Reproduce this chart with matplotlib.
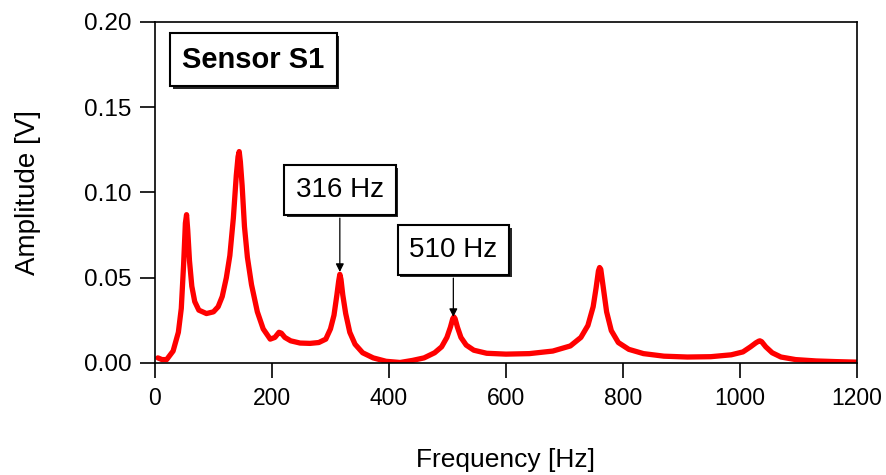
import matplotlib
matplotlib.use("Agg")
import matplotlib.pyplot as plt
import matplotlib.patheffects as pe

plt.rcParams['font.family'] = ['Liberation Sans', 'DejaVu Sans']

# spectrum
freq = [5, 12, 20, 31, 40, 45, 49, 52, 54, 56, 59, 63, 68, 75, 88, 100, 108, 115,
        122, 128, 134, 139, 142, 144, 146, 149, 153, 158, 165, 175, 185, 197, 205,
        212, 216, 222, 232, 248, 265, 280, 292, 300, 306, 311, 314, 316, 318, 321,
        326, 333, 342, 355, 373, 395, 419, 440, 460, 478, 490, 499, 505, 509, 511,
        513, 517, 523, 532, 545, 567, 600, 640, 680, 710, 728, 740, 749, 754, 758,
        760, 762, 766, 772, 780, 792, 810, 835, 870, 910, 950, 985, 1005, 1018,
        1027, 1032, 1034, 1037, 1044, 1055, 1070, 1095, 1130, 1165, 1200]
amp = [0.003, 0.002, 0.002, 0.007, 0.018, 0.032, 0.058, 0.082, 0.087, 0.078,
       0.060, 0.045, 0.036, 0.031, 0.029, 0.030, 0.033, 0.039, 0.050, 0.063,
       0.085, 0.110, 0.121, 0.124, 0.118, 0.104, 0.080, 0.062, 0.046, 0.030,
       0.020, 0.014, 0.015, 0.018, 0.0175, 0.015, 0.013, 0.0117, 0.0115, 0.012,
       0.014, 0.020, 0.028, 0.040, 0.048, 0.052, 0.049, 0.040, 0.029, 0.018,
       0.011, 0.006, 0.003, 0.001, 0.0003, 0.0015, 0.003, 0.006, 0.0095, 0.015,
       0.021, 0.026, 0.027, 0.026, 0.021, 0.015, 0.0105, 0.0075, 0.0057, 0.0052,
       0.0055, 0.007, 0.010, 0.015, 0.022, 0.033, 0.044, 0.054, 0.056, 0.055,
       0.045, 0.030, 0.019, 0.012, 0.008, 0.0055, 0.004, 0.0035, 0.0037, 0.0048,
       0.0065, 0.0095, 0.0118, 0.0128, 0.013, 0.0125, 0.0095, 0.006, 0.0035,
       0.002, 0.0012, 0.0008, 0.0005]

marked = [316, 510]
marked_amp = [0.0534, 0.027]
marked_text = [0.1015, 0.0663]

fig = plt.figure(figsize=(8.87, 4.75), dpi=100)
ax = fig.add_axes([0.1747, 0.2358, 0.7915, 0.7179])

ax.plot(freq, amp, color='#ff0000', lw=3.8, solid_joinstyle='round', solid_capstyle='round')

ax.set_xlim(0, 1200)
ax.set_ylim(0, 0.20)
ax.set_xticks(range(0, 1201, 200))
ax.set_yticks([0, 0.05, 0.10, 0.15, 0.20])
ax.set_yticklabels(['0.00', '0.05', '0.10', '0.15', '0.20'])
for s in ax.spines.values():
    s.set_linewidth(1.2)
ax.tick_params(direction='out', length=11, width=1.2, pad=6, top=False, right=False)
ax.tick_params(axis='y', labelsize=17.5)
ax.tick_params(axis='x', labelsize=16.5)

ax.set_xlabel('Frequency [Hz]', fontsize=19)
ax.set_ylabel('Amplitude [V]', fontsize=20)
ax.xaxis.set_label_coords(0.5, -0.25)
ax.yaxis.set_label_coords(-0.162, 0.5)

shadow = [pe.SimplePatchShadow(offset=(2, -2), shadow_rgbFace='black', alpha=0.85), pe.Normal()]

t = ax.text(168, 0.178, 'Sensor S1', fontsize=21, fontweight='bold', ha='center', va='center',
            bbox=dict(boxstyle='square,pad=0.42', fc='white', ec='black', lw=1.5))
t.get_bbox_patch().set_path_effects(shadow)

for f, a, ty in zip(marked, marked_amp, marked_text):
    an = ax.annotate(f'{f} Hz', xy=(f, a), xytext=(f, ty), fontsize=20, ha='center', va='center',
                     bbox=dict(boxstyle='square,pad=0.42', fc='white', ec='black', lw=1.5),
                     arrowprops=dict(arrowstyle='-|>', color='black', lw=0.9,
                                     mutation_scale=12, shrinkA=2, shrinkB=0))
    an.get_bbox_patch().set_path_effects(shadow)

fig.savefig('out.png', dpi=100)
